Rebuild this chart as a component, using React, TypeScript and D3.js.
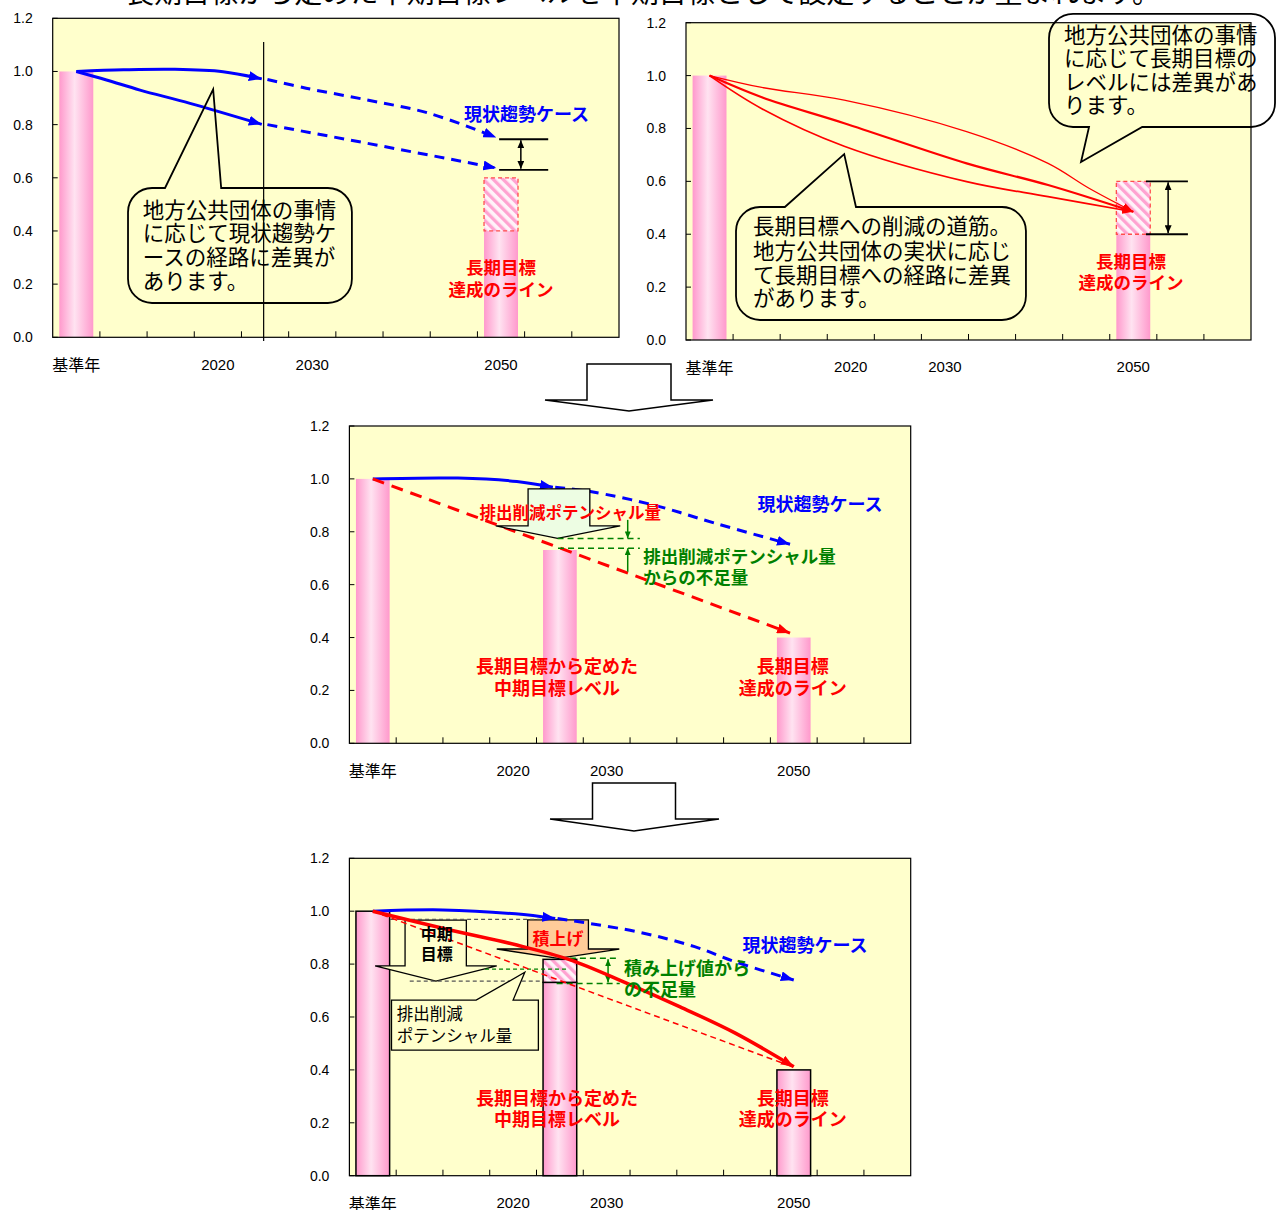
import React from 'react';
import * as d3 from 'd3';

type Pt = [number, number];
type Sc = d3.ScaleLinear<number, number>;

// ---------------- shared axis data ----------------
const CATEGORY_LABELS = ['基準年', '', '', '2020', '', '2030', '', '', '', '2050', '', ''];
const Y_TICKS = [0, 0.2, 0.4, 0.6, 0.8, 1.0, 1.2];
const TITLE = '長期目標から定めた中期目標レベルを中期目標として設定することが望まれます。';

// ---------------- panel A (top-left) ----------------
const A_BARS = [{ cat: 0, value: 1.0 }, { cat: 9, value: 0.4 }];
const A_HATCH = { cat: 9, from: 0.4, to: 0.6 };
const A_TREND_SOLID_1: Pt[] = [[0, 1.0], [1, 1.006], [2.06, 1.008], [3.11, 0.999], [3.93, 0.972]];
const A_TREND_SOLID_2: Pt[] = [[0, 1.0], [0.64, 0.968], [1.35, 0.93], [2.41, 0.88], [3.93, 0.801]];
const A_TREND_DASH_1: Pt[] = [[4.05, 0.97], [4.87, 0.937], [6.16, 0.893], [7.47, 0.843], [8.9, 0.752]];
const A_TREND_DASH_2: Pt[] = [[4.05, 0.8], [6.16, 0.73], [8.9, 0.637]];
const A_SPREAD = [0.745, 0.63];
const A_DIVIDER = 3.97;
const A_NOTE = ['地方公共団体の事情', 'に応じて現状趨勢ケ', 'ースの経路に差異が', 'あります。'];

// ---------------- panel B (top-right) ----------------
const B_BARS = [{ cat: 0, value: 1.0 }, { cat: 9, value: 0.4 }];
const B_HATCH = { cat: 9, from: 0.4, to: 0.6 };
const B_PATH_GENTLE: Pt[] = [[0, 1], [1.11, 0.955], [2.86, 0.907], [5.46, 0.788], [7.19, 0.668], [8.06, 0.574], [9, 0.485]];
const B_PATH_MIDDLE: Pt[] = [[0, 1], [1.11, 0.918], [2.86, 0.82], [5.46, 0.668], [7.19, 0.586], [9, 0.485]];
const B_PATH_STEEP: Pt[] = [[0, 1], [1.11, 0.875], [2.86, 0.733], [5.46, 0.599], [7.19, 0.542], [9, 0.485]];
const B_SPREAD = [0.6, 0.4];
const B_NOTE_1 = ['長期目標への削減の道筋。', '地方公共団体の実状に応じ', 'て長期目標への経路に差異', 'があります。'];
const B_NOTE_2 = ['地方公共団体の事情', 'に応じて長期目標の', 'レベルには差異があ', 'ります。'];

// ---------------- panel C (middle) ----------------
const C_BARS = [{ cat: 0, value: 1.0 }, { cat: 4, value: 0.731 }, { cat: 9, value: 0.4 }];
const C_TREND_SOLID: Pt[] = [[0, 1.0], [1.82, 1.003], [3.08, 0.99], [3.85, 0.968]];
const C_TREND_DASH: Pt[] = [[3.9, 0.968], [4.65, 0.952], [6.05, 0.899], [7.32, 0.832], [8.92, 0.753]];
const C_TARGET_PATH: Pt[] = [[0, 1.0], [8.92, 0.417]];
const C_POTENTIAL = 0.775;
const C_SHORTFALL = 0.7375;

// ---------------- panel D (bottom) ----------------
const D_BARS = [{ cat: 0, value: 1.0 }, { cat: 4, value: 0.731 }, { cat: 9, value: 0.4 }];
const D_HATCH = { cat: 4, from: 0.731, to: 0.818 };
const D_TREND_SOLID: Pt[] = [[0, 1.0], [1.5, 1.005], [3.05, 0.99], [3.9, 0.972]];
const D_TREND_DASH: Pt[] = [[3.95, 0.972], [5.63, 0.923], [6.88, 0.866], [7.74, 0.809], [9.0, 0.74]];
const D_STACKED_PATH: Pt[] = [[0, 1.0], [1.65, 0.929], [3.08, 0.872], [4.22, 0.816], [5.4, 0.73], [6.57, 0.638], [7.74, 0.54], [9.0, 0.412]];
const D_TARGET_PATH: Pt[] = [[0, 1.0], [9.0, 0.41]];
const D_LEVEL_TOP = 0.969;
const D_LEVEL_MID = 0.736;
const D_STACK_TOP = 0.822;
const D_STACK_BOTTOM = 0.727;
const D_POTENTIAL_REF = 0.781;

// ---------------- styles ----------------
const FONT_JP = "'Noto Sans CJK JP', 'Noto Sans', sans-serif";
const FONT_NUM = "'Liberation Sans', Arial, sans-serif";
const BG = '#FFFFCC';
const BLUE = '#0000FF';
const RED = '#FF0000';
const GREEN = '#008000';
const BAR_HALF = 0.36;

const curved = (x: Sc, y: Sc) =>
  d3.line<Pt>().x(d => x(d[0])).y(d => y(d[1])).curve(d3.curveCatmullRom.alpha(0.5));
const straight = (x: Sc, y: Sc) =>
  d3.line<Pt>().x(d => x(d[0])).y(d => y(d[1])).curve(d3.curveLinear);

function calloutPath(x0: number, x1: number, t: number, b: number, r: number, side: 'top' | 'bottom',
  b0: number, b1: number, ax: number, ay: number) {
  if (side === 'top') {
    return `M${b1},${t} L${x1 - r},${t} A${r},${r} 0 0 1 ${x1},${t + r} L${x1},${b - r} A${r},${r} 0 0 1 ${x1 - r},${b} L${x0 + r},${b} A${r},${r} 0 0 1 ${x0},${b - r} L${x0},${t + r} A${r},${r} 0 0 1 ${x0 + r},${t} L${b0},${t} L${ax},${ay} Z`;
  }
  return `M${b0},${b} L${x0 + r},${b} A${r},${r} 0 0 1 ${x0},${b - r} L${x0},${t + r} A${r},${r} 0 0 1 ${x0 + r},${t} L${x1 - r},${t} A${r},${r} 0 0 1 ${x1},${t + r} L${x1},${b - r} A${r},${r} 0 0 1 ${x1 - r},${b} L${b1},${b} L${ax},${ay} Z`;
}

function hollowArrow(sx0: number, sx1: number, top: number, head: number, wx0: number, wx1: number, tx: number, ty: number) {
  return `${sx0},${top} ${sx1},${top} ${sx1},${head} ${wx1},${head} ${tx},${ty} ${wx0},${head} ${sx0},${head}`;
}

function Lines({ x, y, lines, cx, vs, size, fill = '#000', bold = false, anchor = 'start', ls = 0 }:
  { x: Sc; y: Sc; lines: string[]; cx: number; vs: number[]; size: number; fill?: string; bold?: boolean; anchor?: string; ls?: number }) {
  return (
    <>
      {lines.map((s, k) => (
        <text key={k} x={x(cx)} y={y(vs[k])} fontSize={size} fill={fill} fontWeight={bold ? 700 : 400}
          textAnchor={anchor as any} dominantBaseline="central" fontFamily={FONT_JP} letterSpacing={ls}>{s}</text>
      ))}
    </>
  );
}

function Bar({ x, y, cat, lo, hi, outline = false, fill = 'url(#pinkGrad)' }:
  { x: Sc; y: Sc; cat: number; lo: number; hi: number; outline?: boolean; fill?: string }) {
  const x0 = x(cat - BAR_HALF);
  const x1 = x(cat + BAR_HALF);
  return <rect x={x0} y={y(hi)} width={x1 - x0} height={y(lo) - y(hi)} fill={fill}
    stroke={outline ? '#000' : 'none'} strokeWidth={1.5} />;
}

function HatchBox({ x, y, cat, lo, hi }: { x: Sc; y: Sc; cat: number; lo: number; hi: number }) {
  const x0 = x(cat - BAR_HALF);
  const x1 = x(cat + BAR_HALF);
  return <rect x={x0} y={y(hi)} width={x1 - x0} height={y(lo) - y(hi)} fill="url(#hatch)"
    stroke="#FF4D4D" strokeWidth={1.3} strokeDasharray="4 3" />;
}

function Spread({ x, y, from, to, arrowAt, vals }: { x: Sc; y: Sc; from: number; to: number; arrowAt: number; vals: number[] }) {
  return (
    <g stroke="#000">
      {vals.map((v, k) => <line key={k} x1={x(from)} x2={x(to)} y1={y(v)} y2={y(v)} strokeWidth={1.8} />)}
      <line x1={x(arrowAt)} x2={x(arrowAt)} y1={y(vals[0]) + 1} y2={y(vals[1]) - 1} strokeWidth={1.5}
        markerStart="url(#ahBlack)" markerEnd="url(#ahBlack)" />
    </g>
  );
}

function Panel({ left, top, width, height, children }:
  { left: number; top: number; width: number; height: number; children: (x: Sc, y: Sc) => React.ReactNode }) {
  const x = d3.scaleLinear().domain([-0.5, 11.5]).range([0, width]);
  const y = d3.scaleLinear().domain([0, 1.2]).range([height, 0]);
  return (
    <g transform={`translate(${left},${top})`}>
      <rect x={0} y={0} width={width} height={height} fill={BG} />
      {d3.range(1, 12).map(k => (
        <line key={'xt' + k} x1={x(k - 0.5)} x2={x(k - 0.5)} y1={height} y2={height - 6} stroke="#000" strokeWidth={1} />
      ))}
      {Y_TICKS.map(t => (
        <line key={'yt' + t} x1={0} x2={5} y1={y(t)} y2={y(t)} stroke="#000" strokeWidth={1} />
      ))}
      {Y_TICKS.map(t => (
        <text key={'yl' + t} x={-20} y={y(t)} textAnchor="end" dominantBaseline="central" fontSize={14}
          fontFamily={FONT_NUM} fill="#000">{t.toFixed(1)}</text>
      ))}
      {CATEGORY_LABELS.map((c, i) => c ? (
        <text key={'xl' + i} x={x(i)} y={height + 27} textAnchor="middle" dominantBaseline="central"
          fontSize={i === 0 ? 16 : 15} fontFamily={i === 0 ? FONT_JP : FONT_NUM} fill="#000">{c}</text>
      ) : null)}
      {children(x, y)}
      <rect x={0} y={0} width={width} height={height} fill="none" stroke="#000" strokeWidth={1.2} />
    </g>
  );
}

function PanelA({ x, y }: { x: Sc; y: Sc }) {
  const c = curved(x, y);
  const s = straight(x, y);
  return (
    <>
      {A_BARS.map(b => <Bar key={b.cat} x={x} y={y} cat={b.cat} lo={0} hi={b.value} />)}
      <HatchBox x={x} y={y} cat={A_HATCH.cat} lo={A_HATCH.from} hi={A_HATCH.to} />
      <line x1={x(A_DIVIDER)} x2={x(A_DIVIDER)} y1={y(1.111)} y2={y(-0.014)} stroke="#000" strokeWidth={1.2} />
      <path d={c(A_TREND_SOLID_1) || ''} fill="none" stroke={BLUE} strokeWidth={3} markerEnd="url(#ahBlue)" />
      <path d={c(A_TREND_SOLID_2) || ''} fill="none" stroke={BLUE} strokeWidth={3} markerEnd="url(#ahBlue)" />
      <path d={c(A_TREND_DASH_1) || ''} fill="none" stroke={BLUE} strokeWidth={3} strokeDasharray="10 7" markerEnd="url(#ahBlue)" />
      <path d={s(A_TREND_DASH_2) || ''} fill="none" stroke={BLUE} strokeWidth={3} strokeDasharray="10 7" markerEnd="url(#ahBlue)" />
      <Spread x={x} y={y} from={8.96} to={10.0} arrowAt={9.42} vals={A_SPREAD} />
      <path d={calloutPath(x(1.096), x(5.84), y(0.5617), y(0.129), 24, 'top', x(1.88), x(3.07), x(2.9), y(0.933))}
        fill="none" stroke="#000" strokeWidth={1.8} />
      <Lines x={x} y={y} lines={A_NOTE} cx={1.41} vs={[0.485, 0.397, 0.306, 0.216]} size={21.5} />
      <Lines x={x} y={y} lines={['現状趨勢ケース']} cx={9.54} vs={[0.845]} size={18} fill={BLUE} bold anchor="middle" />
      <Lines x={x} y={y} lines={['長期目標', '達成のライン']} cx={9.0} vs={[0.265, 0.182]} size={17.5} fill={RED} bold anchor="middle" />
    </>
  );
}

function PanelB({ x, y }: { x: Sc; y: Sc }) {
  const c = curved(x, y);
  return (
    <>
      {B_BARS.map(b => <Bar key={b.cat} x={x} y={y} cat={b.cat} lo={0} hi={b.value} />)}
      <HatchBox x={x} y={y} cat={B_HATCH.cat} lo={B_HATCH.from} hi={B_HATCH.to} />
      <path d={c(B_PATH_GENTLE) || ''} fill="none" stroke={RED} strokeWidth={1.3} markerEnd="url(#ahRedSmall)" />
      <path d={c(B_PATH_MIDDLE) || ''} fill="none" stroke={RED} strokeWidth={2.2} markerEnd="url(#ahRedSmall)" />
      <path d={c(B_PATH_STEEP) || ''} fill="none" stroke={RED} strokeWidth={1.7} markerEnd="url(#ahRedSmall)" />
      <Spread x={x} y={y} from={9.27} to={10.16} arrowAt={9.74} vals={B_SPREAD} />
      <path d={calloutPath(x(0.562), x(6.72), y(0.503), y(0.0756), 24, 'top', x(1.6), x(3.11), x(2.86), y(0.703))}
        fill="none" stroke="#000" strokeWidth={1.8} />
      <Lines x={x} y={y} lines={B_NOTE_1} cx={0.923} vs={[0.435, 0.343, 0.252, 0.164]} size={21.5} />
      <path d={calloutPath(x(7.21), x(12.01), y(1.233), y(0.8056), 24, 'bottom', x(8.06), x(9.19), x(7.89), y(0.673))}
        fill="none" stroke="#000" strokeWidth={1.8} />
      <Lines x={x} y={y} lines={B_NOTE_2} cx={7.53} vs={[1.16, 1.071, 0.983, 0.895]} size={21.5} />
      <Lines x={x} y={y} lines={['長期目標', '達成のライン']} cx={8.95} vs={[0.3025, 0.22]} size={17.5} fill={RED} bold anchor="middle" />
    </>
  );
}

function PanelC({ x, y }: { x: Sc; y: Sc }) {
  const c = curved(x, y);
  const s = straight(x, y);
  return (
    <>
      {C_BARS.map(b => <Bar key={b.cat} x={x} y={y} cat={b.cat} lo={0} hi={b.value} />)}
      <path d={c(C_TREND_SOLID) || ''} fill="none" stroke={BLUE} strokeWidth={3} markerEnd="url(#ahBlue)" />
      <path d={c(C_TREND_DASH) || ''} fill="none" stroke={BLUE} strokeWidth={3} strokeDasharray="10 7" markerEnd="url(#ahBlue)" />
      <path d={s(C_TARGET_PATH) || ''} fill="none" stroke={RED} strokeWidth={3} strokeDasharray="12 8" markerEnd="url(#ahRed)" />
      <polygon points={hollowArrow(x(3.32), x(4.64), y(0.962), y(0.822), x(2.63), x(5.29), x(3.95), y(C_POTENTIAL))}
        fill="#EDFDE3" stroke="#000" strokeWidth={1.3} />
      <g stroke={GREEN} strokeWidth={1.5}>
        <line x1={x(3.95)} x2={x(5.71)} y1={y(C_POTENTIAL)} y2={y(C_POTENTIAL)} strokeDasharray="6 4" />
        <line x1={x(3.96)} x2={x(5.71)} y1={y(C_SHORTFALL)} y2={y(C_SHORTFALL)} strokeDasharray="6 4" />
        <line x1={x(5.45)} x2={x(5.45)} y1={y(0.845)} y2={y(C_POTENTIAL)} markerEnd="url(#ahGreen)" />
        <line x1={x(5.45)} x2={x(5.45)} y1={y(0.649)} y2={y(C_SHORTFALL)} markerEnd="url(#ahGreen)" />
      </g>
      <Lines x={x} y={y} lines={['排出削減ポテンシャル量']} cx={4.22} vs={[0.876]} size={16.5} fill={RED} bold anchor="middle" />
      <Lines x={x} y={y} lines={['排出削減ポテンシャル量', 'からの不足量']} cx={5.78} vs={[0.712, 0.63]} size={17.5} fill={GREEN} bold />
      <Lines x={x} y={y} lines={['現状趨勢ケース']} cx={9.56} vs={[0.908]} size={18} fill={BLUE} bold anchor="middle" />
      <Lines x={x} y={y} lines={['長期目標から定めた', '中期目標レベル']} cx={3.94} vs={[0.296, 0.214]} size={18} fill={RED} bold anchor="middle" />
      <Lines x={x} y={y} lines={['長期目標', '達成のライン']} cx={8.98} vs={[0.296, 0.214]} size={18} fill={RED} bold anchor="middle" />
    </>
  );
}

function PanelD({ x, y }: { x: Sc; y: Sc }) {
  const c = curved(x, y);
  const s = straight(x, y);
  return (
    <>
      <Bar x={x} y={y} cat={D_BARS[0].cat} lo={0} hi={D_BARS[0].value} outline />
      <Bar x={x} y={y} cat={D_BARS[1].cat} lo={0} hi={D_BARS[1].value} outline />
      <Bar x={x} y={y} cat={D_HATCH.cat} lo={D_HATCH.from} hi={D_HATCH.to} outline fill="url(#hatch)" />
      <Bar x={x} y={y} cat={D_BARS[2].cat} lo={0} hi={D_BARS[2].value} outline />
      <polygon points={hollowArrow(x(0.69), x(2.0), y(0.966), y(0.793), x(0.05), x(2.65), x(1.35), y(D_LEVEL_MID))}
        fill={BG} stroke="#000" strokeWidth={1.3} />
      <polygon points={hollowArrow(x(3.31), x(4.61), y(0.967), y(0.857), x(2.65), x(5.27), x(3.96), y(D_STACK_TOP))}
        fill="#FFCC99" stroke="#000" strokeWidth={1.3} />
      <g stroke="#555" strokeWidth={1.3} strokeDasharray="4 3">
        <line x1={x(0.37)} x2={x(3.79)} y1={y(D_LEVEL_TOP)} y2={y(D_LEVEL_TOP)} />
        <line x1={x(0.79)} x2={x(3.57)} y1={y(D_LEVEL_MID)} y2={y(D_LEVEL_MID)} />
      </g>
      <g stroke={GREEN} strokeWidth={1.5} strokeDasharray="6 4">
        <line x1={x(4.0)} x2={x(5.28)} y1={y(D_STACK_TOP)} y2={y(D_STACK_TOP)} />
        <line x1={x(3.93)} x2={x(5.28)} y1={y(D_STACK_BOTTOM)} y2={y(D_STACK_BOTTOM)} />
        <line x1={x(2.4)} x2={x(4.15)} y1={y(D_POTENTIAL_REF)} y2={y(D_POTENTIAL_REF)} strokeWidth={1.2} strokeDasharray="4 3" />
      </g>
      <line x1={x(5.03)} x2={x(5.03)} y1={y(D_STACK_TOP) + 1} y2={y(D_STACK_BOTTOM) - 1} stroke={GREEN} strokeWidth={1.5}
        markerStart="url(#ahGreen)" markerEnd="url(#ahGreen)" />
      <path d={c(D_TREND_SOLID) || ''} fill="none" stroke={BLUE} strokeWidth={3} markerEnd="url(#ahBlue)" />
      <path d={c(D_TREND_DASH) || ''} fill="none" stroke={BLUE} strokeWidth={3} strokeDasharray="10 7" markerEnd="url(#ahBlue)" />
      <path d={s(D_TARGET_PATH) || ''} fill="none" stroke={RED} strokeWidth={1.5} strokeDasharray="6 4" />
      <path d={c(D_STACKED_PATH) || ''} fill="none" stroke={RED} strokeWidth={3.5} markerEnd="url(#ahRed)" />
      <path d={calloutPath(x(0.4), x(3.54), y(0.664), y(0.475), 0, 'top', x(2.21), x(3.0), x(3.25), y(0.769))}
        fill={BG} stroke="#000" strokeWidth={1.3} />
      <Lines x={x} y={y} lines={['排出削減', 'ポテンシャル量']} cx={0.51} vs={[0.614, 0.532]} size={16.5} />
      <Lines x={x} y={y} lines={['中期', '目標']} cx={1.37} vs={[0.918, 0.842]} size={16} bold anchor="middle" />
      <Lines x={x} y={y} lines={['積上げ']} cx={3.96} vs={[0.899]} size={17} fill={RED} bold anchor="middle" />
      <Lines x={x} y={y} lines={['積み上げ値から', 'の不足量']} cx={5.37} vs={[0.79, 0.708]} size={18} fill={GREEN} bold />
      <Lines x={x} y={y} lines={['現状趨勢ケース']} cx={9.24} vs={[0.876]} size={18} fill={BLUE} bold anchor="middle" />
      <Lines x={x} y={y} lines={['長期目標から定めた', '中期目標レベル']} cx={3.94} vs={[0.299, 0.217]} size={18} fill={RED} bold anchor="middle" />
      <Lines x={x} y={y} lines={['長期目標', '達成のライン']} cx={8.98} vs={[0.299, 0.217]} size={18} fill={RED} bold anchor="middle" />
    </>
  );
}

function Defs() {
  const mk = (id: string, color: string, len: number, w: number) => (
    <marker id={id} viewBox={`0 0 ${len} ${w}`} refX={len} refY={w / 2} markerWidth={len} markerHeight={w}
      markerUnits="userSpaceOnUse" orient="auto-start-reverse">
      <path d={`M0,0 L${len},${w / 2} L0,${w} Z`} fill={color} />
    </marker>
  );
  return (
    <defs>
      <linearGradient id="pinkGrad" x1="0" x2="1" y1="0" y2="0">
        <stop offset="0" stopColor="#FF99CC" />
        <stop offset="0.45" stopColor="#FFE3F1" />
        <stop offset="1" stopColor="#FF99CC" />
      </linearGradient>
      <pattern id="hatch" patternUnits="userSpaceOnUse" width="7" height="7" patternTransform="rotate(-45)">
        <rect width="7" height="7" fill="#FFF3F9" />
        <rect width="3.3" height="7" fill="#FFA3D1" />
      </pattern>
      {mk('ahBlue', BLUE, 13, 10)}
      {mk('ahRed', RED, 13, 10)}
      {mk('ahRedSmall', RED, 11, 8)}
      {mk('ahBlack', '#000', 8, 7)}
      {mk('ahGreen', GREEN, 7, 6)}
    </defs>
  );
}

export default function App() {
  return (
    <svg width={1276} height={1210} style={{ position: 'absolute', left: 0, top: 0, background: '#fff' }}
      fontFamily={FONT_JP}>
      <Defs />
      <text x={126} y={3} fontSize={28} textLength={1034} lengthAdjust="spacingAndGlyphs" fill="#000"
        fontFamily={FONT_JP}>{TITLE}</text>
      <Panel left={52.7} top={18.3} width={566.3} height={319}>{(x, y) => <PanelA x={x} y={y} />}</Panel>
      <Panel left={686} top={22.7} width={565} height={317.3}>{(x, y) => <PanelB x={x} y={y} />}</Panel>
      <Panel left={349.4} top={426} width={561.3} height={317.3}>{(x, y) => <PanelC x={x} y={y} />}</Panel>
      <Panel left={349.4} top={858.3} width={561.3} height={317.4}>{(x, y) => <PanelD x={x} y={y} />}</Panel>
      <polygon points={hollowArrow(587, 671, 364, 400, 545, 713, 629, 411)} fill="#fff" stroke="#000" strokeWidth={1.5} />
      <polygon points={hollowArrow(592.5, 675.5, 783, 819, 550, 719, 634, 831)} fill="#fff" stroke="#000" strokeWidth={1.5} />
    </svg>
  );
}
